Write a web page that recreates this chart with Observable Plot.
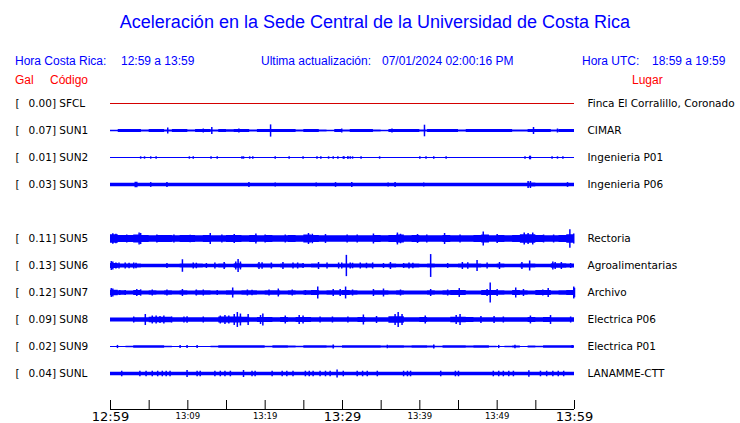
<!DOCTYPE html>
<html><head><meta charset="utf-8">
<script src="https://cdn.jsdelivr.net/npm/d3@7"></script>
<script src="https://cdn.jsdelivr.net/npm/@observablehq/plot@0.6"></script>
<style>
body{margin:0;background:#fff;}
#wrap{position:relative;width:740px;height:423px;overflow:hidden;font-family:"Liberation Sans",Arial,sans-serif;}
.t{position:absolute;white-space:pre;line-height:1;font-size:12px;color:#0000ff;}
.r{color:#ff0000;}
#wrap svg{position:absolute;left:0;}
</style></head><body><div id="wrap">
<div class="t" style="left:0;width:750px;text-align:center;top:13px;font-size:18px;">Aceleración en la Sede Central de la Universidad de Costa Rica</div>
<div class="t" style="left:15px;top:55px;">Hora Costa Rica:</div>
<div class="t" style="left:121px;top:55px;">12:59 a 13:59</div>
<div class="t" style="left:261px;top:55px;">Ultima actualización:</div>
<div class="t" style="left:382px;top:55px;">07/01/2024 02:00:16 PM</div>
<div class="t" style="left:582px;top:55px;">Hora UTC:</div>
<div class="t" style="left:652px;top:55px;">18:59 a 19:59</div>
<div class="t r" style="left:15px;top:74px;">Gal</div>
<div class="t r" style="left:50px;top:74px;">Código</div>
<div class="t r" style="left:632px;top:74px;">Lugar</div>
<div id="traces"></div>
<div id="axis"></div>
</div>
<script>
// ---- data ----
const stationCodes = ["SFCL","SUN1","SUN2","SUN3","SUN4","SUN5","SUN6","SUN7","SUN8","SUN9","SUNL"];
const shownCodes = ["SFCL","SUN1","SUN2","SUN3","SUN5","SUN6","SUN7","SUN8","SUN9","SUNL"];
const peakGal = ["0.00","0.07","0.01","0.03","0.11","0.13","0.12","0.09","0.02","0.04"];
const places = ["Finca El Corralillo, Coronado","CIMAR","Ingenieria P01","Ingenieria P06","Rectoria","Agroalimentarias","Archivo","Electrica P06","Electrica P01","LANAMME-CTT"];

const tickMinutes = [0,5,10,15,20,25,30,35,40,45,50,55,60];
const bigTickMinutes = [0,30,60];
const bigTickLabels = ["12:59","13:29","13:59"];
const smallTickMinutes = [10,20,40,50];
const smallTickLabels = ["13:09","13:19","13:39","13:49"];

// envelope half-amplitude (Gal), one value per minute from 12:59 to 13:59
const env_SUN1 = [0.008,0.018,0.018,0.018,0.013,0.018,0.018,0.013,0.018,0.018,
 0.013,0.018,0.018,0.013,0.018,0.016,0.018,0.018,0.013,0.018,
 0.018,0.018,0.018,0.018,0.013,0.018,0.018,0.013,0.008,0.018,
 0.013,0.018,0.018,0.018,0.013,0.010,0.018,0.018,0.018,0.018,
 0.013,0.018,0.018,0.018,0.018,0.013,0.018,0.018,0.018,0.018,
 0.018,0.018,0.013,0.013,0.018,0.018,0.018,0.013,0.018,0.018,0.018];
const env_SUN3 = [0.021,0.021,0.021,0.022,0.021,0.021,0.021,0.021,0.021,0.021,
 0.021,0.021,0.021,0.021,0.021,0.021,0.021,0.021,0.021,0.021,
 0.021,0.021,0.021,0.021,0.021,0.021,0.021,0.021,0.021,0.021,
 0.021,0.021,0.021,0.021,0.021,0.021,0.021,0.021,0.021,0.021,
 0.021,0.021,0.021,0.021,0.021,0.021,0.021,0.021,0.021,0.021,
 0.021,0.021,0.021,0.021,0.024,0.021,0.021,0.021,0.021,0.021,0.021];
const env_SUN5 = [0.055,0.045,0.045,0.050,0.045,0.040,0.045,0.045,0.042,0.045,
 0.045,0.040,0.045,0.042,0.042,0.045,0.045,0.040,0.045,0.042,
 0.045,0.042,0.040,0.045,0.042,0.050,0.045,0.042,0.040,0.042,
 0.040,0.042,0.040,0.042,0.045,0.042,0.045,0.050,0.042,0.045,
 0.040,0.042,0.042,0.045,0.040,0.042,0.042,0.045,0.050,0.042,
 0.045,0.042,0.045,0.055,0.055,0.045,0.042,0.042,0.045,0.055,0.050];
const env_SUN6 = [0.030,0.026,0.026,0.026,0.021,0.021,0.021,0.021,0.021,0.024,
 0.024,0.024,0.021,0.021,0.024,0.021,0.028,0.021,0.021,0.024,
 0.024,0.021,0.024,0.024,0.024,0.021,0.024,0.021,0.021,0.021,
 0.024,0.026,0.026,0.026,0.021,0.021,0.024,0.021,0.024,0.024,
 0.021,0.024,0.021,0.021,0.021,0.026,0.026,0.024,0.021,0.021,
 0.024,0.021,0.021,0.024,0.024,0.021,0.021,0.028,0.028,0.024,0.024];
const env_SUN7 = [0.035,0.028,0.025,0.030,0.025,0.028,0.025,0.028,0.025,0.028,
 0.025,0.028,0.028,0.025,0.025,0.028,0.025,0.028,0.028,0.025,
 0.028,0.028,0.025,0.028,0.025,0.028,0.030,0.025,0.028,0.028,
 0.030,0.028,0.025,0.025,0.028,0.028,0.025,0.028,0.025,0.025,
 0.025,0.028,0.025,0.028,0.030,0.030,0.025,0.025,0.030,0.030,
 0.028,0.025,0.030,0.028,0.025,0.030,0.030,0.025,0.028,0.032,0.032];
const env_SUN8 = [0.025,0.025,0.025,0.027,0.027,0.035,0.035,0.035,0.029,0.029,
 0.029,0.029,0.029,0.029,0.038,0.038,0.038,0.036,0.029,0.032,
 0.032,0.029,0.031,0.029,0.032,0.031,0.029,0.029,0.029,0.029,
 0.029,0.029,0.031,0.029,0.029,0.029,0.040,0.040,0.029,0.029,
 0.030,0.029,0.029,0.029,0.035,0.035,0.033,0.029,0.029,0.029,
 0.029,0.029,0.029,0.029,0.031,0.029,0.031,0.029,0.029,0.029,0.029];
const env_SUN9 = [0.006,0.006,0.010,0.015,0.015,0.015,0.015,0.010,0.006,0.006,
 0.006,0.006,0.006,0.010,0.015,0.015,0.015,0.015,0.015,0.015,
 0.010,0.015,0.015,0.012,0.010,0.015,0.015,0.015,0.012,0.008,
 0.015,0.015,0.015,0.015,0.015,0.012,0.015,0.015,0.012,0.015,
 0.015,0.012,0.010,0.015,0.015,0.015,0.012,0.015,0.015,0.010,
 0.006,0.008,0.012,0.006,0.013,0.008,0.015,0.015,0.015,0.015,0.015];
const env_SUNL = [0.021,0.021,0.021,0.021,0.022,0.022,0.022,0.022,0.021,0.021,
 0.021,0.021,0.021,0.021,0.022,0.022,0.021,0.021,0.021,0.021,
 0.021,0.021,0.022,0.022,0.021,0.022,0.022,0.022,0.022,0.022,
 0.021,0.021,0.022,0.022,0.021,0.021,0.021,0.021,0.022,0.021,
 0.021,0.021,0.021,0.021,0.021,0.021,0.021,0.021,0.021,0.022,
 0.022,0.022,0.022,0.021,0.022,0.021,0.022,0.022,0.022,0.022,0.022];

// bursts: [minute since 12:59, half-amplitude Gal]
const spikes_SUN1 = [[7.4,0.038],[12.0,0.025],[13.1,0.044],[16.6,0.025],[20.7,0.077],[29.9,0.025],[36.4,0.025],[40.6,0.073],[54.7,0.044],[57.8,0.025]];
const spikes_SUN2 = [[3.9,0.015],[4.4,0.015],[5.2,0.015],[5.9,0.015],[10.2,0.015],[10.7,0.015],[13.0,0.015],[13.8,0.015],[17.0,0.015],[17.2,0.015],[18.0,0.015],[18.4,0.015],[21.3,0.015],[23.1,0.015],[24.9,0.015],[26.7,0.015],[27.2,0.015],[28.2,0.015],[28.8,0.015],[29.4,0.015],[30.1,0.015],[30.2,0.015],[30.7,0.018],[31.0,0.015],[31.3,0.015],[32.4,0.015],[34.8,0.015],[40.0,0.015],[40.8,0.015],[41.8,0.015],[43.4,0.015],[53.6,0.015],[54.2,0.022],[54.3,0.022],[57.1,0.015],[57.8,0.015],[58.5,0.015]];
const spikes_SUN3 = [[3.2,0.035],[3.4,0.035],[5.2,0.030],[7.3,0.030],[17.9,0.030],[21.3,0.025],[26.6,0.025],[29.1,0.030],[31.2,0.030],[35.9,0.025],[36.8,0.030],[40.5,0.025],[54.0,0.044],[54.3,0.044],[59.1,0.030]];
const spikes_SUN5 = [[0.3,0.066],[0.7,0.060],[2.1,0.050],[3.7,0.075],[3.9,0.070],[6.0,0.050],[8.2,0.050],[10.3,0.048],[12.9,0.069],[14.4,0.050],[16.0,0.056],[18.8,0.063],[20.0,0.050],[22.6,0.050],[25.6,0.069],[26.1,0.060],[27.8,0.056],[30.6,0.050],[31.9,0.050],[34.0,0.063],[37.1,0.075],[37.5,0.060],[39.7,0.056],[40.9,0.050],[43.2,0.069],[45.2,0.050],[48.2,0.088],[50.0,0.056],[53.5,0.075],[54.0,0.070],[54.6,0.075],[56.0,0.050],[57.3,0.050],[59.4,0.117],[59.9,0.063]];
const spikes_SUN6 = [[0.1,0.056],[0.3,0.050],[0.7,0.038],[1.1,0.038],[1.9,0.038],[2.4,0.035],[3.0,0.038],[3.3,0.035],[7.3,0.031],[9.3,0.079],[10.7,0.038],[11.1,0.035],[12.4,0.031],[13.5,0.038],[14.7,0.044],[16.2,0.050],[16.5,0.081],[16.8,0.050],[19.2,0.044],[19.6,0.040],[20.8,0.038],[22.3,0.044],[23.6,0.038],[24.2,0.038],[24.9,0.031],[26.9,0.044],[28.0,0.038],[29.5,0.038],[29.9,0.038],[30.5,0.134],[31.0,0.038],[31.3,0.035],[32.3,0.038],[33.1,0.035],[33.9,0.038],[35.3,0.031],[36.2,0.044],[37.9,0.031],[38.6,0.038],[39.1,0.035],[41.4,0.144],[43.6,0.031],[45.5,0.044],[46.2,0.040],[47.4,0.069],[48.7,0.038],[50.3,0.044],[53.2,0.044],[54.2,0.063],[57.2,0.050],[57.5,0.045],[58.3,0.044],[59.5,0.031]];
const spikes_SUN7 = [[0.1,0.056],[0.3,0.050],[1.2,0.031],[1.9,0.031],[3.4,0.044],[3.9,0.040],[5.4,0.038],[7.3,0.038],[9.3,0.044],[11.1,0.038],[12.0,0.038],[13.8,0.031],[15.8,0.063],[17.7,0.038],[18.3,0.035],[20.5,0.038],[21.7,0.050],[23.5,0.038],[25.2,0.031],[26.8,0.075],[28.8,0.044],[29.7,0.044],[30.4,0.075],[31.3,0.038],[34.0,0.044],[35.3,0.050],[37.5,0.038],[41.4,0.044],[43.6,0.038],[45.1,0.056],[48.7,0.044],[49.1,0.125],[50.0,0.044],[52.4,0.063],[53.4,0.044],[55.9,0.038],[56.6,0.056],[59.9,0.075],[60.0,0.060]];
const spikes_SUN8 = [[3.0,0.038],[4.5,0.069],[5.4,0.050],[5.9,0.050],[6.4,0.045],[6.9,0.050],[7.9,0.038],[9.5,0.038],[9.9,0.040],[12.0,0.038],[14.2,0.050],[14.8,0.056],[15.3,0.050],[16.0,0.069],[16.4,0.094],[16.8,0.075],[17.8,0.069],[19.4,0.056],[19.7,0.075],[22.6,0.050],[24.4,0.056],[24.9,0.050],[27.1,0.038],[28.7,0.038],[30.7,0.038],[32.7,0.063],[34.4,0.044],[36.8,0.069],[37.2,0.094],[37.7,0.070],[40.7,0.050],[44.7,0.056],[45.2,0.069],[47.9,0.044],[49.6,0.044],[50.8,0.038],[54.3,0.050],[56.9,0.056],[59.5,0.038]];
const spikes_SUN9 = [[0.9,0.020],[9.0,0.020],[9.9,0.020],[11.2,0.020],[28.8,0.025],[35.8,0.022],[41.8,0.025],[50.2,0.020],[52.3,0.022],[59.7,0.020]];
const spikes_SUNL = [[1.45,0.035],[3.8,0.035],[4.6,0.035],[5.4,0.035],[6.1,0.035],[6.7,0.035],[7.2,0.035],[7.7,0.035],[9.9,0.044],[11.2,0.035],[11.6,0.035],[13.5,0.035],[14.2,0.035],[14.8,0.035],[15.5,0.035],[17.2,0.044],[18.3,0.035],[18.7,0.035],[20.9,0.035],[22.2,0.035],[22.8,0.035],[23.6,0.035],[25.2,0.035],[25.7,0.035],[26.2,0.035],[27.1,0.035],[27.8,0.035],[28.4,0.035],[29.3,0.050],[30.1,0.035],[31.9,0.035],[32.6,0.035],[33.2,0.035],[34.5,0.035],[37.9,0.035],[38.4,0.035],[38.8,0.035],[42.7,0.035],[44.6,0.035],[45.0,0.035],[49.5,0.035],[50.2,0.035],[50.8,0.035],[51.5,0.035],[52.1,0.035],[54.1,0.040],[55.6,0.035],[56.4,0.035],[57.2,0.035],[57.9,0.035],[58.6,0.035]];

// ---- build tables ----
const sampleMinutes = d3.range(0, 61);
const envelopes = {SUN1: env_SUN1, SUN3: env_SUN3, SUN5: env_SUN5, SUN6: env_SUN6, SUN7: env_SUN7, SUN8: env_SUN8, SUN9: env_SUN9, SUNL: env_SUNL};
const spikeSets = {SUN1: spikes_SUN1, SUN2: spikes_SUN2, SUN3: spikes_SUN3, SUN5: spikes_SUN5, SUN6: spikes_SUN6, SUN7: spikes_SUN7, SUN8: spikes_SUN8, SUN9: spikes_SUN9, SUNL: spikes_SUNL};
const envRows = Object.entries(envelopes).flatMap(([s, arr]) => arr.map((a, i) => ({station: s, m: sampleMinutes[i], a})));
const spikeRows = Object.entries(spikeSets).flatMap(([s, arr]) => arr.map(([m, a]) => ({station: s, m, a})));
const rowInfo = shownCodes.map((s, i) => ({station: s, peak: peakGal[i], place: places[i]}));

const BLUE = "#0000ff", RED = "#d40000";
const labelFont = {fontFamily: "DejaVu Sans", fontSize: 10.5, fill: "black", textAnchor: "start"};

const traces = Plot.plot({
  width: 740, height: 423,
  marginLeft: 110, marginRight: 166, marginTop: 90, marginBottom: 36,
  x: {domain: [0, 60], axis: null},
  y: {domain: [-0.17, 0.17], axis: null},
  fy: {domain: stationCodes, padding: 0, axis: null},
  marks: [
    Plot.ruleY(rowInfo.filter(d => d.station === "SFCL"), {fy: "station", y: d => 0, dy: -0.5, stroke: RED, strokeWidth: 1}),
    Plot.ruleY(rowInfo.filter(d => d.station !== "SFCL"), {fy: "station", y: d => 0, dy: -0.5, stroke: BLUE, strokeWidth: 1}),
    Plot.area(envRows, {x1: "m", y1: d => -d.a, y2: "a", fy: "station", fill: BLUE, curve: "step-after"}),
    Plot.ruleX(spikeRows, {x: "m", y1: d => -d.a, y2: "a", fy: "station", stroke: BLUE, strokeWidth: 1.5}),
    Plot.text(rowInfo, {fy: "station", frameAnchor: "left", dx: -95, text: d => "[", ...labelFont}),
    Plot.text(rowInfo, {fy: "station", frameAnchor: "left", dx: -82, text: d => `${d.peak}] ${d.station}`, ...labelFont}),
    Plot.text(rowInfo, {fy: "station", frameAnchor: "right", dx: 13, text: "place", ...labelFont})
  ]
});
traces.style.top = "0px";
document.getElementById("traces").appendChild(traces);

const axis = Plot.plot({
  width: 740, height: 33,
  marginLeft: 110, marginRight: 166, marginTop: 10, marginBottom: 14,
  x: {domain: [0, 60], axis: null},
  y: {domain: [0, 1], axis: null},
  marks: [
    Plot.ruleY([0], {stroke: "black"}),
    Plot.ruleX(tickMinutes, {x: d => d, y1: d => 0, y2: d => 1, stroke: "black"}),
    Plot.text(bigTickMinutes, {x: d => d, y: d => 0, text: (d, i) => bigTickLabels[i], fontFamily: "DejaVu Sans", fontSize: 13, lineAnchor: "top", dy: 2, fill: "black"}),
    Plot.text(smallTickMinutes, {x: d => d, y: d => 0, text: (d, i) => smallTickLabels[i], fontFamily: "DejaVu Sans", fontSize: 8.5, lineAnchor: "top", dy: 3, fill: "black"})
  ]
});
axis.style.top = "390px";
axis.style.overflow = "visible";
document.getElementById("axis").appendChild(axis);
</script>
</body></html>
